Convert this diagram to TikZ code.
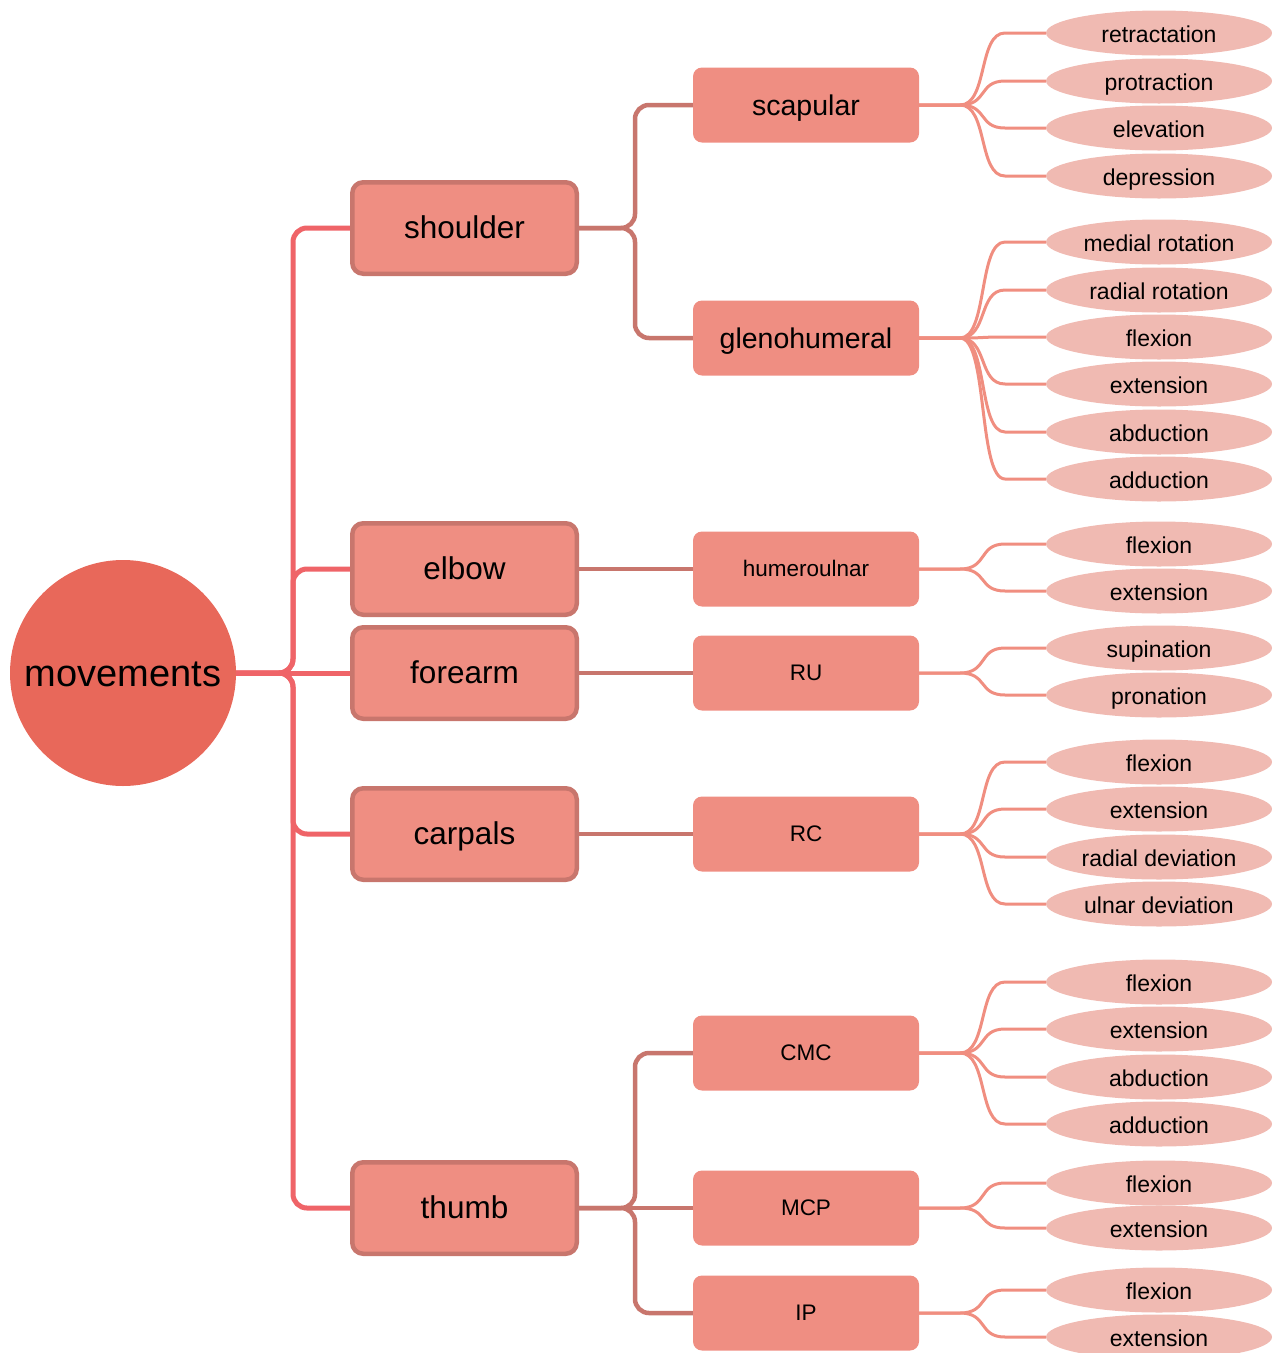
\documentclass[tikz,border=0pt]{standalone}
\usepackage{fontspec}
\setmainfont{Liberation Sans}
\usetikzlibrary{shapes.geometric,backgrounds}
\definecolor{rootc}{HTML}{E8685A}
\definecolor{trunkc}{HTML}{EF6468}
\definecolor{boxfill}{HTML}{EF8E82}
\definecolor{boxline}{HTML}{C8766D}
\definecolor{ltwoc}{HTML}{C8766D}
\definecolor{lthreec}{HTML}{F08E80}
\definecolor{leafc}{HTML}{F0BAB2}
\tikzset{
  rootnode/.style={circle, fill=rootc, minimum size=226pt, inner sep=0pt, font=\fontsize{38}{42}\selectfont, text height=30.4pt, text depth=3.8pt},
  lonebox/.style={rectangle, rounded corners=11pt, fill=boxfill, draw=boxline, line width=4.5pt, minimum width=224.5pt, minimum height=91.5pt, inner sep=0pt, font=\fontsize{31.5}{35}\selectfont, text height=25pt, text depth=3.2pt},
  ltwobox/.style={rectangle, rounded corners=9pt, fill=boxfill, minimum width=226pt, minimum height=75pt, inner sep=0pt},
  bigtxt/.style={font=\fontsize{28.5}{32}\selectfont, text height=22.8pt, text depth=2.8pt},
  smalltxt/.style={font=\fontsize{22.5}{26}\selectfont, text height=18pt, text depth=2.2pt},
  leafnode/.style={ellipse, fill=leafc, minimum width=226pt, minimum height=45pt, inner sep=0pt, font=\fontsize{23}{26}\selectfont, text height=21pt, text depth=2pt},
  loneedge/.style={draw=trunkc, line width=5pt, rounded corners=14pt},
  ltwoedge/.style={draw=ltwoc, line width=4.5pt, rounded corners=14pt},
  lthreeedge/.style={draw=lthreec, line width=3pt}
}
\begin{document}
\begin{tikzpicture}[x=1pt,y=-1pt]
\useasboundingbox (0,0) rectangle (1276,1353);
% root
\node[rootnode] (root) at (123,673) {movements};
% level 1
\node[lonebox] (shoulder) at (464.5,228) {shoulder};
\node[lonebox] (elbow) at (464.5,569) {elbow};
\node[lonebox] (forearm) at (464.5,673) {forearm};
\node[lonebox] (carpals) at (464.5,834) {carpals};
\node[lonebox] (thumb) at (464.5,1208) {thumb};
% level 2
\node[ltwobox,bigtxt] (scapular) at (806,105) {scapular};
\node[ltwobox,bigtxt] (gleno) at (806,338) {glenohumeral};
\node[ltwobox,smalltxt] (humero) at (806,569) {humeroulnar};
\node[ltwobox,smalltxt] (ru) at (806,673) {RU};
\node[ltwobox,smalltxt] (rc) at (806,834) {RC};
\node[ltwobox,smalltxt] (cmc) at (806,1053) {CMC};
\node[ltwobox,smalltxt] (mcp) at (806,1208) {MCP};
\node[ltwobox,smalltxt] (ip) at (806,1313) {IP};
% leaves
\newcommand{\leafgroup}[4]{%
  \foreach \yy/\tt [count=\ii] in {#4} {
    \node[leafnode] (#2-\ii) at (1159,\yy) {\tt};
    \begin{pgfonlayer}{background}
    \draw[lthreeedge] (#1.east) -- (960,#3) .. controls (988,#3) and (978,\yy) .. (1005,\yy) -- (#2-\ii.west);
    \end{pgfonlayer}
  }%
}
\leafgroup{scapular}{sc}{105}{33/retractation,81/protraction,128/elevation,176/depression}
\leafgroup{gleno}{gh}{338}{242/medial rotation,290/radial rotation,337/flexion,384/extension,432/abduction,479/adduction}
\leafgroup{humero}{hu}{569}{544/flexion,591/extension}
\leafgroup{ru}{rux}{673}{648/supination,695/pronation}
\leafgroup{rc}{rcx}{834}{762/flexion,809/extension,857/radial deviation,904/ulnar deviation}
\leafgroup{cmc}{cm}{1053}{982/flexion,1029/extension,1077/abduction,1124/adduction}
\leafgroup{mcp}{mc}{1208}{1183/flexion,1228/extension}
\leafgroup{ip}{ipx}{1313}{1290/flexion,1337/extension}
\begin{pgfonlayer}{background}
% level 1 edges
\draw[loneedge] (root.east) -- (293,673) -- (293,228) -- (shoulder.west);
\draw[loneedge] (root.east) -- (293,673) -- (293,569) -- (elbow.west);
\draw[loneedge] (root.east) -- (forearm.west);
\draw[loneedge] (root.east) -- (293,673) -- (293,834) -- (carpals.west);
\draw[loneedge] (root.east) -- (293,673) -- (293,1208) -- (thumb.west);
% level 2 edges
\draw[ltwoedge] (shoulder.east) -- (635,228) -- (635,105) -- (scapular.west);
\draw[ltwoedge] (shoulder.east) -- (635,228) -- (635,338) -- (gleno.west);
\draw[ltwoedge] (elbow.east) -- (humero.west);
\draw[ltwoedge] (forearm.east) -- (ru.west);
\draw[ltwoedge] (carpals.east) -- (rc.west);
\draw[ltwoedge] (thumb.east) -- (635,1208) -- (635,1053) -- (cmc.west);
\draw[ltwoedge] (thumb.east) -- (mcp.west);
\draw[ltwoedge] (thumb.east) -- (635,1208) -- (635,1313) -- (ip.west);
\end{pgfonlayer}
\end{tikzpicture}
\end{document}
